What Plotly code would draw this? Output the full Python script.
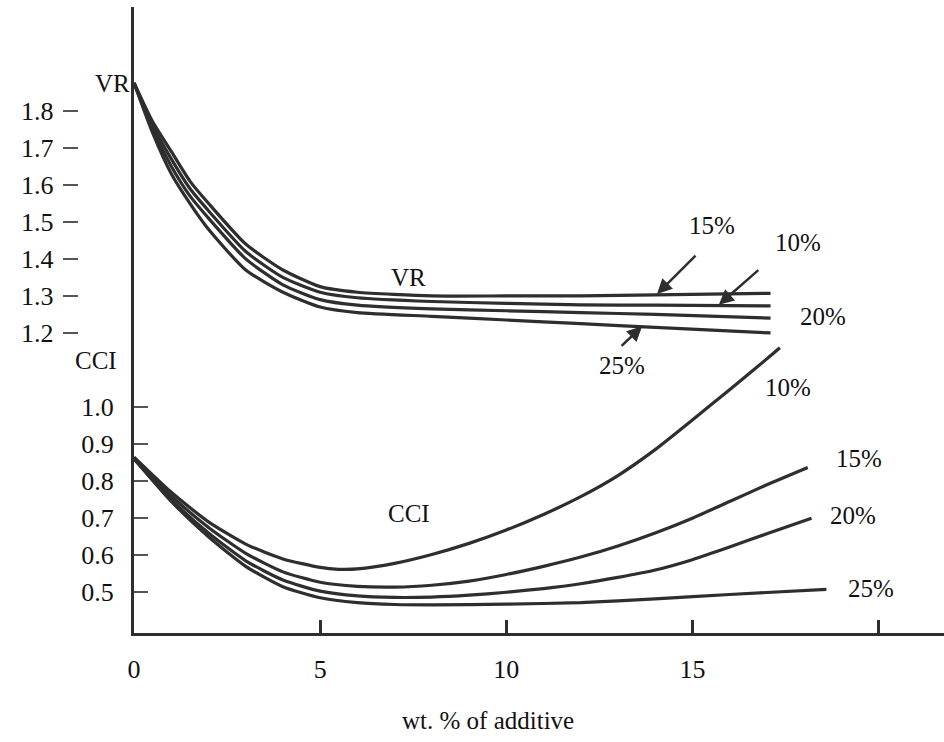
import plotly.graph_objects as go

W, H = 944, 742
FONT = "Liberation Serif, Times New Roman, serif"
INK = "#2e2e2e"

# additive content (wt. %) and measured viscosity ratio (VR), per concentration series
vr_x = [0, 0.5, 1, 1.5, 2, 3, 4, 5, 6, 8, 10, 12, 14, 17.1]
vr_15 = [1.875, 1.77, 1.69, 1.61, 1.55, 1.44, 1.37, 1.325, 1.31, 1.30, 1.30, 1.30, 1.303, 1.307]
vr_10 = [1.875, 1.76, 1.67, 1.59, 1.53, 1.42, 1.35, 1.31, 1.295, 1.285, 1.28, 1.276, 1.275, 1.273]
vr_20 = [1.875, 1.75, 1.65, 1.57, 1.51, 1.40, 1.33, 1.29, 1.275, 1.265, 1.26, 1.255, 1.25, 1.240]
vr_25 = [1.875, 1.74, 1.63, 1.55, 1.48, 1.37, 1.31, 1.27, 1.255, 1.245, 1.235, 1.225, 1.215, 1.200]

# CCI series
cci_x10 = [0, 1, 2, 3, 4, 5, 5.5, 6, 7, 8, 9, 10, 11, 12, 13, 14, 15, 16, 17, 17.35]
cci_10 = [0.865, 0.77, 0.69, 0.63, 0.59, 0.567, 0.562, 0.563, 0.578, 0.602, 0.632, 0.668,
          0.71, 0.758, 0.815, 0.885, 0.965, 1.047, 1.13, 1.16]
cci_x15 = [0, 1, 2, 3, 4, 5, 6, 7, 8, 9, 10, 11, 12, 13, 14, 15, 16, 17, 18.1]
cci_15 = [0.86, 0.76, 0.675, 0.605, 0.555, 0.527, 0.516, 0.514, 0.519, 0.53, 0.548, 0.57,
          0.595, 0.625, 0.66, 0.70, 0.745, 0.79, 0.837]
cci_x20 = [0, 1, 2, 3, 4, 5, 6, 7, 8, 9, 10, 11, 12, 13, 14, 15, 16, 17, 18.2]
cci_20 = [0.86, 0.75, 0.66, 0.585, 0.533, 0.503, 0.49, 0.486, 0.487, 0.492, 0.5, 0.51,
          0.523, 0.54, 0.56, 0.588, 0.622, 0.658, 0.70]
cci_x25 = [0, 1, 2, 3, 4, 5, 6, 7, 8, 10, 12, 14, 16, 18.6]
cci_25 = [0.86, 0.745, 0.65, 0.57, 0.515, 0.485, 0.472, 0.467, 0.466, 0.468, 0.472,
          0.482, 0.494, 0.508]

x_ticks = [0, 5, 10, 15, 20]
x_tick_text = ["0", "5", "10", "15", ""]
cci_ticks = [0.5, 0.6, 0.7, 0.8, 0.9, 1.0]
vr_ticks = [1.2, 1.3, 1.4, 1.5, 1.6, 1.7, 1.8]

X_RANGE = [0, 21.76]
Y_RANGE = [0.39, 2.08]

fig = go.Figure()

for xs, ys in [(vr_x, vr_15), (vr_x, vr_10), (vr_x, vr_20), (vr_x, vr_25),
               (cci_x10, cci_10), (cci_x15, cci_15), (cci_x20, cci_20), (cci_x25, cci_25)]:
    fig.add_trace(go.Scatter(
        x=xs, y=ys, mode="lines",
        line=dict(color=INK, width=3.2, shape="spline", smoothing=0.6),
        hoverinfo="skip", showlegend=False))

# VR scale: a second axis sharing the same range, drawn left of the main axis
fig.add_trace(go.Scatter(x=[None], y=[None], yaxis="y2", showlegend=False))


def px(xp, yp):
    return dict(xref="paper", yref="paper", x=xp / W, y=1 - yp / H)


annotations = []
text_labels = [
    ("VR", 106, 84), ("CCI", 90, 360),
    ("VR", 405, 277), ("CCI", 405, 513),
    ("15%", 710, 225), ("10%", 797, 242), ("20%", 822, 317), ("25%", 620, 365),
    ("10%", 787, 387), ("15%", 858, 458), ("20%", 852, 515), ("25%", 870, 588),
    ("wt. % of additive", 485, 720),
]
for t, xp, yp in text_labels:
    size = 25
    annotations.append(dict(text=t, showarrow=False, font=dict(family=FONT, size=size, color="#111"),
                            xanchor="center", yanchor="middle", **px(xp, yp)))

# pointer arrows onto the VR curves: (head x, head y, tail offset in px)
arrows = [(14.05, 1.305, 40, -40), (15.71, 1.276, 41, -36), (13.65, 1.218, -22, 21)]
for hx, hy, ax, ay in arrows:
    annotations.append(dict(x=hx, y=hy, xref="x", yref="y", ax=ax, ay=ay, text="",
                            showarrow=True, arrowhead=2, arrowsize=1.2, arrowwidth=2.5,
                            arrowcolor=INK))

fig.update_layout(
    width=W, height=H,
    margin=dict(l=0, r=0, t=0, b=0),
    paper_bgcolor="white", plot_bgcolor="white",
    font=dict(family=FONT, size=26, color="#111"),
    xaxis=dict(domain=[128 / W, 1], range=X_RANGE, showline=True, linewidth=3, linecolor=INK,
               showgrid=False, zeroline=False, ticks="inside", ticklen=13, tickwidth=3,
               tickcolor=INK, tickvals=x_ticks, ticktext=x_tick_text, ticklabelstandoff=11),
    yaxis=dict(domain=[(H - 633) / H, (H - 7) / H], range=Y_RANGE, showline=True, linewidth=3,
               linecolor=INK, showgrid=False, zeroline=False, ticks="inside", ticklen=14,
               tickwidth=2, tickcolor="#555", tickvals=cci_ticks,
               ticktext=[f"{v:.1f}" for v in cci_ticks], ticklabelstandoff=12),
    yaxis2=dict(overlaying="y", anchor="free", position=55 / W, side="left", range=Y_RANGE,
                showline=False, showgrid=False, zeroline=False, ticks="inside", ticklen=15,
                tickwidth=2, tickcolor="#555", tickvals=vr_ticks,
                ticktext=[f"{v:.1f}" for v in vr_ticks], ticklabelstandoff=8),
    annotations=annotations,
)

fig.write_html("out.html")
